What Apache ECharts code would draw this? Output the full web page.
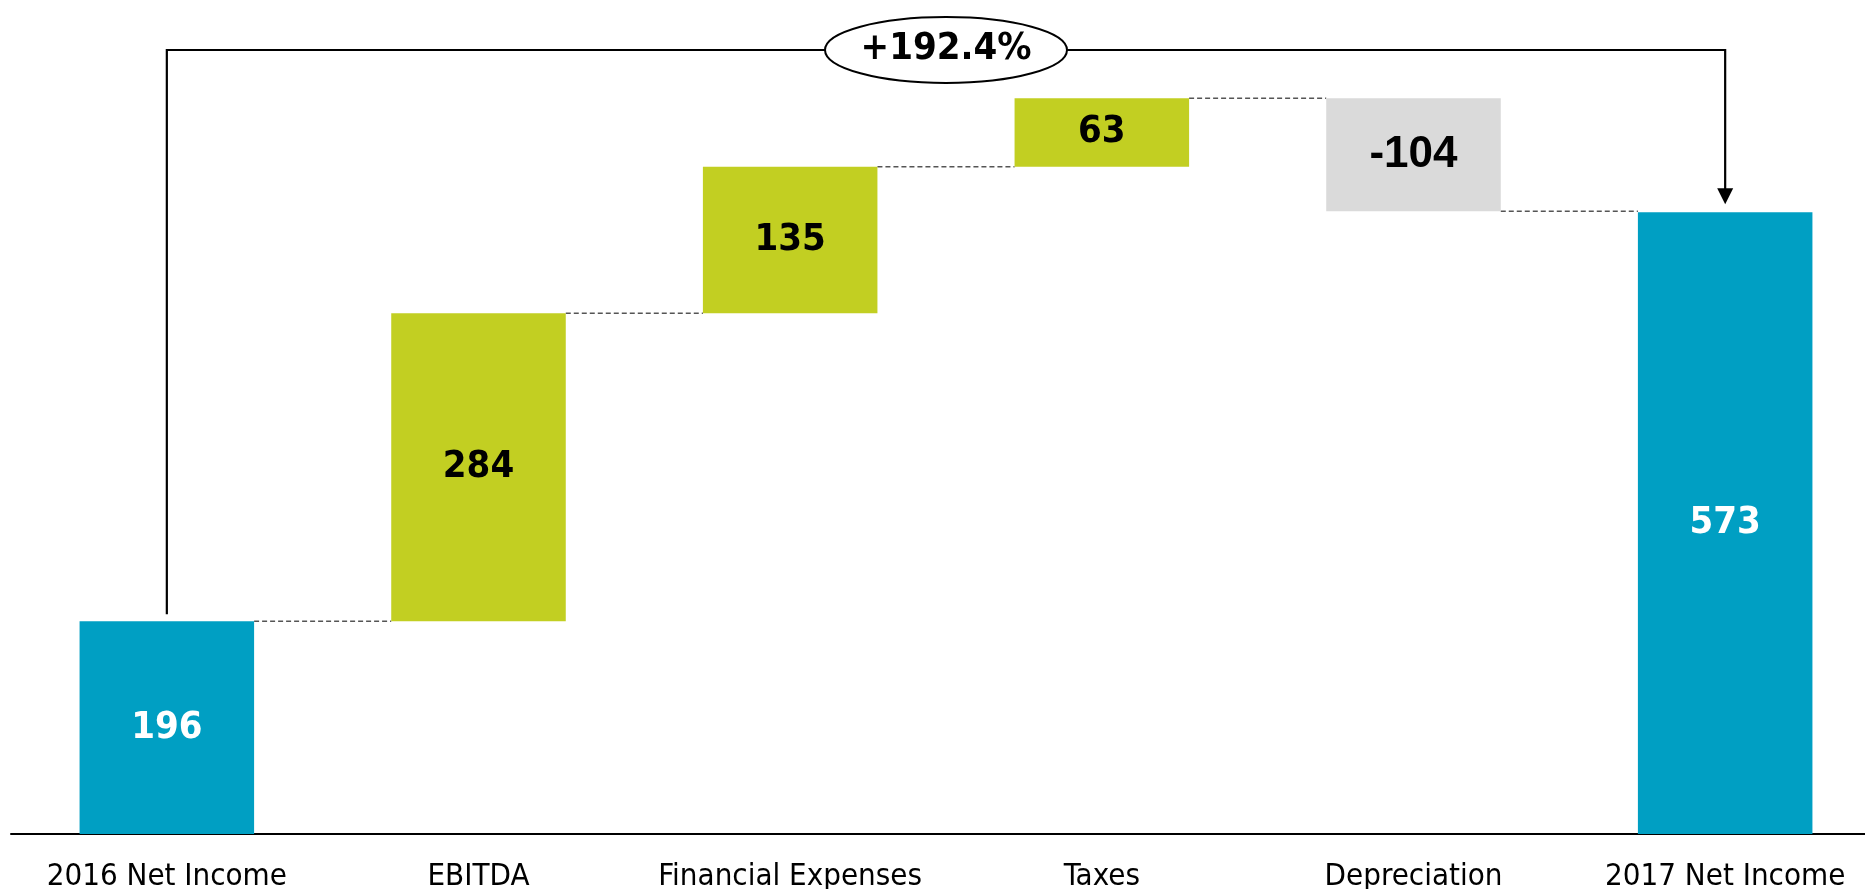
<!DOCTYPE html>
<html>
<head>
<meta charset="utf-8">
<script src="https://cdn.jsdelivr.net/npm/echarts@6/dist/echarts.min.js"></script>
<style>
  html, body { margin: 0; padding: 0; background: #fff; }
  #main { width: 1865px; height: 889px; }
</style>
</head>
<body>
<div id="main"></div>
<script>
// categories and values
const categories = ['2016 Net Income', 'EBITDA', 'Financial Expenses', 'Taxes', 'Depreciation', '2017 Net Income']
const changes = [196, 284, 135, 63, -104, 573]
const isTotal = [true, false, false, false, false, true]
const growthLabel = '+192.4%'

const BLUE = '#009FC3'
const GREEN = '#C2CF22'
const GREY = '#DADADA'
const FONT = '"DejaVu Sans Condensed", "DejaVu Sans", sans-serif'

// base (invisible) + visible part of each bar
const baseData = []
const barData = []
const levels = [] // running level after each bar, for connector lines
let running = 0
changes.forEach((v, i) => {
  let base, top
  if (isTotal[i]) {
    base = 0
    top = v
    running = v
  } else if (v >= 0) {
    base = running
    top = running + v
    running = top
  } else {
    base = running + v
    top = running
    running = base
  }
  levels.push(running)
  baseData.push(base)
  const color = isTotal[i] ? BLUE : (v >= 0 ? GREEN : GREY)
  barData.push({
    value: top - base,
    itemStyle: { color: color }
  })
})

const connectorData = []
for (let i = 0; i < categories.length - 1; i++) {
  connectorData.push([i, levels[i]])
}

const chart = echarts.init(document.getElementById('main'))
const BAR_RATIO = 0.56

chart.setOption({
  animation: false,
  grid: { left: 11, width: 1870, top: 74.5, bottom: 55, outerBoundsMode: 'none', containLabel: false },
  xAxis: {
    type: 'category',
    data: categories,
    axisTick: { show: false },
    axisLine: { lineStyle: { color: '#000', width: 2 } },
    axisLabel: { color: '#000', fontSize: 31, fontFamily: FONT, margin: 27, interval: 0 }
  },
  yAxis: {
    type: 'value',
    min: 0,
    max: 700,
    show: false,
    splitLine: { show: false }
  },
  series: [
    {
      type: 'bar',
      stack: 'wf',
      barWidth: (BAR_RATIO * 100) + '%',
      itemStyle: { color: 'transparent' },
      data: baseData,
      silent: true
    },
    {
      type: 'bar',
      stack: 'wf',
      barWidth: (BAR_RATIO * 100) + '%',
      data: barData,
      label: {
        show: true,
        position: 'inside',
        formatter: p => {
          const v = changes[p.dataIndex]
          if (isTotal[p.dataIndex]) return '{tot|' + v + '}'
          return v < 0 ? '{neg|' + v + '}' : '{pos|' + v + '}'
        },
        rich: {
          tot: { color: '#fff', fontSize: 38, fontWeight: 'bold', fontFamily: FONT },
          pos: { color: '#000', fontSize: 38, fontWeight: 'bold', fontFamily: FONT },
          neg: { color: '#000', fontSize: 44, fontWeight: 'bold', fontFamily: '"Liberation Sans", Arial, sans-serif' }
        }
      }
    },
    {
      // dashed connectors between bars
      type: 'custom',
      data: connectorData,
      silent: true,
      z: 1,
      renderItem: (params, api) => {
        const i = api.value(0)
        const lvl = api.value(1)
        const halfW = api.size([1, 0])[0] * BAR_RATIO / 2
        const p1 = api.coord([i, lvl])
        const p2 = api.coord([i + 1, lvl])
        return {
          type: 'line',
          shape: { x1: p1[0] + halfW, y1: p1[1], x2: p2[0] - halfW, y2: p2[1] },
          style: { stroke: '#555', lineWidth: 1.5, lineDash: [5, 3] }
        }
      }
    }
  ]
})

// bracket annotation from first to last bar
const xL = chart.convertToPixel({ xAxisIndex: 0 }, 0)
const xR = chart.convertToPixel({ xAxisIndex: 0 }, categories.length - 1)
const yStartTop = chart.convertToPixel({ yAxisIndex: 0 }, changes[0])
const yEndTop = chart.convertToPixel({ yAxisIndex: 0 }, changes[changes.length - 1])
const yLine = 50
const xMid = (xL + xR) / 2
const lineStyle = { stroke: '#000', lineWidth: 2.2, fill: null }

chart.setOption({
  graphic: [
    {
      type: 'polyline',
      shape: { points: [[xL, yStartTop - 7], [xL, yLine], [xR, yLine], [xR, yEndTop - 20]] },
      style: lineStyle
    },
    {
      type: 'polygon',
      shape: { points: [[xR - 8, yEndTop - 24], [xR + 8, yEndTop - 24], [xR, yEndTop - 8]] },
      style: { fill: '#000' }
    },
    {
      type: 'ellipse',
      shape: { cx: xMid, cy: yLine, rx: 121, ry: 33 },
      style: { fill: '#fff', stroke: '#000', lineWidth: 2 }
    },
    {
      type: 'text',
      x: xMid,
      y: yLine - 1,
      style: {
        text: growthLabel,
        fill: '#000',
        font: 'bold 38px ' + FONT,
        align: 'center',
        verticalAlign: 'middle'
      }
    }
  ]
})
</script>
</body>
</html>
